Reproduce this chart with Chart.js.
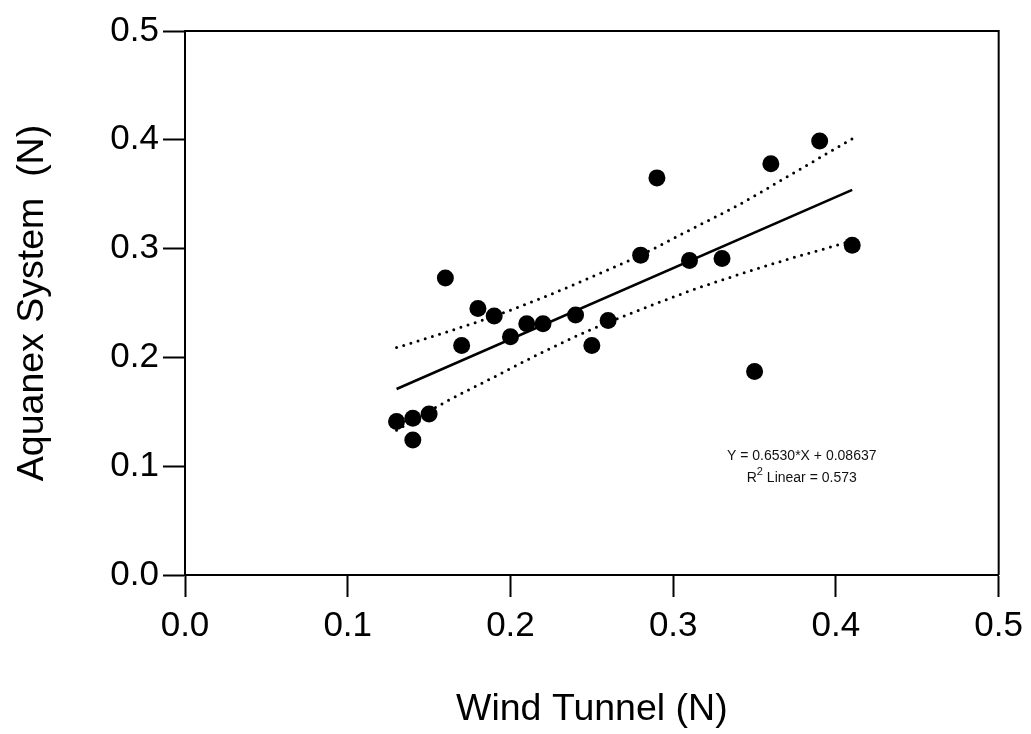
<!DOCTYPE html>
<html>
<head>
<meta charset="utf-8">
<script src="https://cdn.jsdelivr.net/npm/chart.js@4.4.1/dist/chart.umd.min.js"></script>
<style>
  html, body { margin: 0; padding: 0; background: #ffffff; }
  #wrap { width: 1031px; height: 734px; }
</style>
</head>
<body>
<div id="wrap"><canvas id="c" width="1031" height="734"></canvas></div>
<script>
// Observed data (Wind Tunnel vs Aquanex System, N)
const windTunnel = [0.13, 0.14, 0.14, 0.15, 0.16, 0.17, 0.18, 0.19, 0.20, 0.21, 0.22,
                    0.24, 0.25, 0.26, 0.28, 0.29, 0.31, 0.33, 0.35, 0.36, 0.39, 0.41];
const aquanex    = [0.141, 0.144, 0.124, 0.148, 0.273, 0.211, 0.245, 0.238, 0.219, 0.231, 0.231,
                    0.239, 0.211, 0.234, 0.294, 0.365, 0.289, 0.291, 0.187, 0.378, 0.399, 0.303];

// Fitted line endpoints
const fitX = [0.13, 0.41];
const fitY = [0.171, 0.354];

// Confidence band (dotted)
const bandX     = [0.13, 0.16, 0.19, 0.22, 0.25, 0.28, 0.31, 0.34, 0.37, 0.41];
const bandUpper = [0.209, 0.223, 0.238, 0.255, 0.274, 0.294, 0.317, 0.340, 0.366, 0.401];
const bandLower = [0.133, 0.159, 0.182, 0.205, 0.226, 0.244, 0.261, 0.276, 0.290, 0.307];

const tickValues = [0.0, 0.1, 0.2, 0.3, 0.4, 0.5];
const xTitle = 'Wind Tunnel (N)';
const yTitle = 'Aquanex System  (N)';
const eqText = 'Y = 0.6530*X + 0.08637';
const r2Text = ['R', '2', ' Linear = 0.573'];

const FONT = "'Liberation Sans', Arial, Helvetica, sans-serif";

const toPts = (xs, ys) => xs.map((x, i) => ({ x: x, y: ys[i] }));

const framePlugin = {
  id: 'frame',
  afterDatasetsDraw(chart) {
    const { ctx, chartArea: a, scales } = chart;
    ctx.save();
    ctx.strokeStyle = '#000';
    ctx.lineWidth = 2;
    ctx.beginPath();
    ctx.moveTo(a.left, a.top);
    ctx.lineTo(a.right, a.top);
    ctx.lineTo(a.right, a.bottom);
    ctx.stroke();

    // annotation text
    const cx = scales.x.getPixelForValue(0.379);
    const y1 = scales.y.getPixelForValue(0.109);
    const y2 = scales.y.getPixelForValue(0.089);
    ctx.fillStyle = '#111';
    ctx.textBaseline = 'middle';
    ctx.textAlign = 'center';
    const big = '14px ' + FONT, small = '11px ' + FONT;
    ctx.font = big;
    ctx.fillText(eqText, cx, y1);
    // R^2 line
    ctx.font = big; const wR = ctx.measureText(r2Text[0]).width;
    const wL = ctx.measureText(r2Text[2]).width;
    ctx.font = small; const w2 = ctx.measureText(r2Text[1]).width;
    const total = wR + w2 + wL;
    let sx = cx - total / 2;
    ctx.textAlign = 'left';
    ctx.font = big; ctx.fillText(r2Text[0], sx, y2); sx += wR;
    ctx.font = small; ctx.fillText(r2Text[1], sx, y2 - 6); sx += w2;
    ctx.font = big; ctx.fillText(r2Text[2], sx, y2);
    ctx.restore();
  }
};

const axisCommon = {
  type: 'linear',
  min: 0,
  max: 0.5,
  afterBuildTicks(scale) { scale.ticks = tickValues.map(v => ({ value: v })); },
  ticks: {
    callback: v => Number(v).toFixed(1),
    color: '#000',
    font: { family: FONT, size: 35 },
    autoSkip: false,
    maxRotation: 0,
  },
  grid: {
    drawOnChartArea: false,
    drawTicks: true,
    tickLength: 22,
    tickColor: '#000',
    tickWidth: 2,
  },
  border: { display: true, color: '#000', width: 2 },
};

new Chart(document.getElementById('c'), {
  type: 'scatter',
  data: {
    datasets: [
      {
        label: 'Upper',
        data: toPts(bandX, bandUpper),
        showLine: true,
        borderColor: '#000',
        borderWidth: 3,
        borderDash: [0, 7.5],
        borderCapStyle: 'round',
        cubicInterpolationMode: 'monotone',
        pointRadius: 0,
        fill: false,
      },
      {
        label: 'Lower',
        data: toPts(bandX, bandLower),
        showLine: true,
        borderColor: '#000',
        borderWidth: 3,
        borderDash: [0, 7.5],
        borderCapStyle: 'round',
        cubicInterpolationMode: 'monotone',
        pointRadius: 0,
        fill: false,
      },
      {
        label: 'Fit',
        data: toPts(fitX, fitY),
        showLine: true,
        borderColor: '#000',
        borderWidth: 2.6,
        pointRadius: 0,
        fill: false,
      },
      {
        label: 'Data',
        data: toPts(windTunnel, aquanex),
        showLine: false,
        pointRadius: 8.5,
        pointBackgroundColor: '#000',
        pointBorderColor: '#000',
        pointBorderWidth: 0,
      },
    ],
  },
  options: {
    responsive: false,
    animation: false,
    events: [],
    layout: { padding: { top: 31, right: 31, left: 0, bottom: 0 } },
    plugins: { legend: { display: false }, tooltip: { enabled: false } },
    scales: {
      x: Object.assign({}, axisCommon, {
        position: 'bottom',
        ticks: Object.assign({}, axisCommon.ticks, { padding: 8 }),
        title: { display: true, text: xTitle, color: '#000',
                 font: { family: FONT, size: 37.5 }, padding: { top: 0, bottom: 2 } },
        afterFit(scale) { scale.height = 159; },
      }),
      y: Object.assign({}, axisCommon, {
        position: 'left',
        ticks: Object.assign({}, axisCommon.ticks, { padding: 4 }),
        title: { display: true, text: yTitle, color: '#000',
                 font: { family: FONT, size: 37.5 }, padding: { top: 10, bottom: 0 } },
        afterFit(scale) { scale.width = 185; },
      }),
    },
  },
  plugins: [framePlugin],
});
</script>
</body>
</html>
